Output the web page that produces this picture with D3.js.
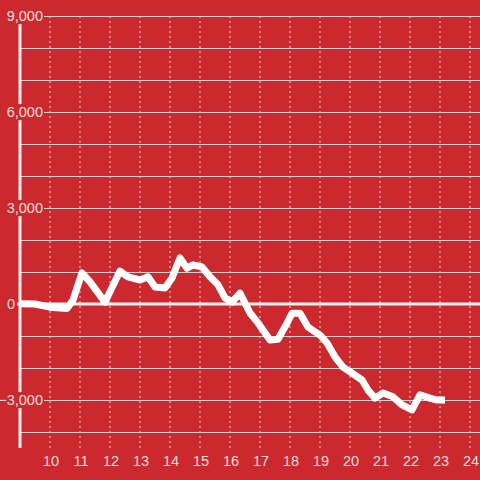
<!DOCTYPE html>
<html><head><meta charset="utf-8">
<script src="https://cdn.jsdelivr.net/npm/d3@7"></script>
<style>html,body{margin:0;padding:0;background:#cc292e;}svg{display:block;}</style>
</head><body>
<script>
const hours = [9.0,9.5,10.0,10.567,10.767,11.067,11.333,11.833,12.333,12.6,13.0,13.267,13.5,13.833,14.067,14.333,14.567,14.767,15.067,15.333,15.6,15.833,16.067,16.333,16.667,16.933,17.1,17.333,17.6,17.9,18.067,18.333,18.6,19.0,19.233,19.5,19.767,20.067,20.4,20.6,20.833,21.1,21.433,21.733,22.067,22.333,22.667,22.9,23.167];
const values = [10,0,-100,-140,120,970,690,60,1030,850,750,850,530,500,810,1440,1120,1220,1160,850,600,190,60,340,-280,-590,-810,-1125,-1100,-600,-290,-290,-720,-970,-1220,-1650,-1970,-2160,-2375,-2690,-2940,-2780,-2900,-3150,-3310,-2840,-2940,-3000,-3000];
const xTicks = [10,11,12,13,14,15,16,17,18,19,20,21,22,23,24];
const yLabelTicks = [9000,6000,3000,0,-3000];
const yGridTicks = [9000,8000,7000,6000,5000,4000,3000,2000,1000,0,-1000,-2000,-3000,-4000];

const W=480,H=480;
const x = d3.scaleLinear().domain([9,24]).range([20,470]);
const y = d3.scaleLinear().domain([-3000,9000]).range([400,16]);
const svg = d3.select("body").append("svg").attr("width",W).attr("height",H);
svg.append("rect").attr("width",W).attr("height",H).attr("fill","#cc292e");

svg.append("g").selectAll("line").data(xTicks).join("line")
  .attr("x1",d=>x(d)).attr("x2",d=>x(d)).attr("y1",16).attr("y2",448)
  .attr("stroke","#e8d0d0").attr("stroke-width",1).attr("stroke-dasharray","2,3");
svg.append("g").selectAll("line").data(yGridTicks.filter(d=>d!==0)).join("line")
  .attr("x1",20).attr("x2",W).attr("y1",d=>y(d)+0.5).attr("y2",d=>y(d)+0.5)
  .attr("stroke","#cfcfcf").attr("stroke-width",1);
svg.append("line").attr("x1",20).attr("x2",20).attr("y1",16).attr("y2",448)
  .attr("stroke","#f0f0f0").attr("stroke-width",3);

const yl = svg.append("g").selectAll("g").data(yLabelTicks).join("g");
yl.each(function(d){
  const g=d3.select(this);
  const t=g.append("text").attr("x",d===0?15:43).attr("y",y(d)).attr("dy","0.35em")
    .attr("text-anchor","end").attr("font-family","Liberation Sans, Arial, sans-serif")
    .attr("font-size",14.5).attr("fill","#f6dede").text(d3.format(",")(d));
  const b=t.node().getBBox();
  if(d!==0) g.insert("rect","text").attr("x",b.x-1).attr("y",b.y).attr("width",b.width+2).attr("height",b.height)
    .attr("fill","#cc292e");
});
svg.append("line").attr("x1",17).attr("x2",W).attr("y1",y(0)).attr("y2",y(0))
  .attr("stroke","#f2f2f2").attr("stroke-width",3);
svg.append("g").selectAll("text").data(xTicks).join("text")
  .attr("x",d=>x(d)+1).attr("y",466).attr("text-anchor","middle")
  .attr("font-family","Liberation Sans, Arial, sans-serif").attr("font-size",14.5)
  .attr("fill","#f6dede").text(d=>d);

const line = d3.line().x((d,i)=>x(hours[i])).y(d=>y(d));
svg.append("path").attr("d",line(values)).attr("fill","none")
  .attr("stroke","#ffffff").attr("stroke-width",7).attr("stroke-linejoin","round");
</script>
</body></html>
